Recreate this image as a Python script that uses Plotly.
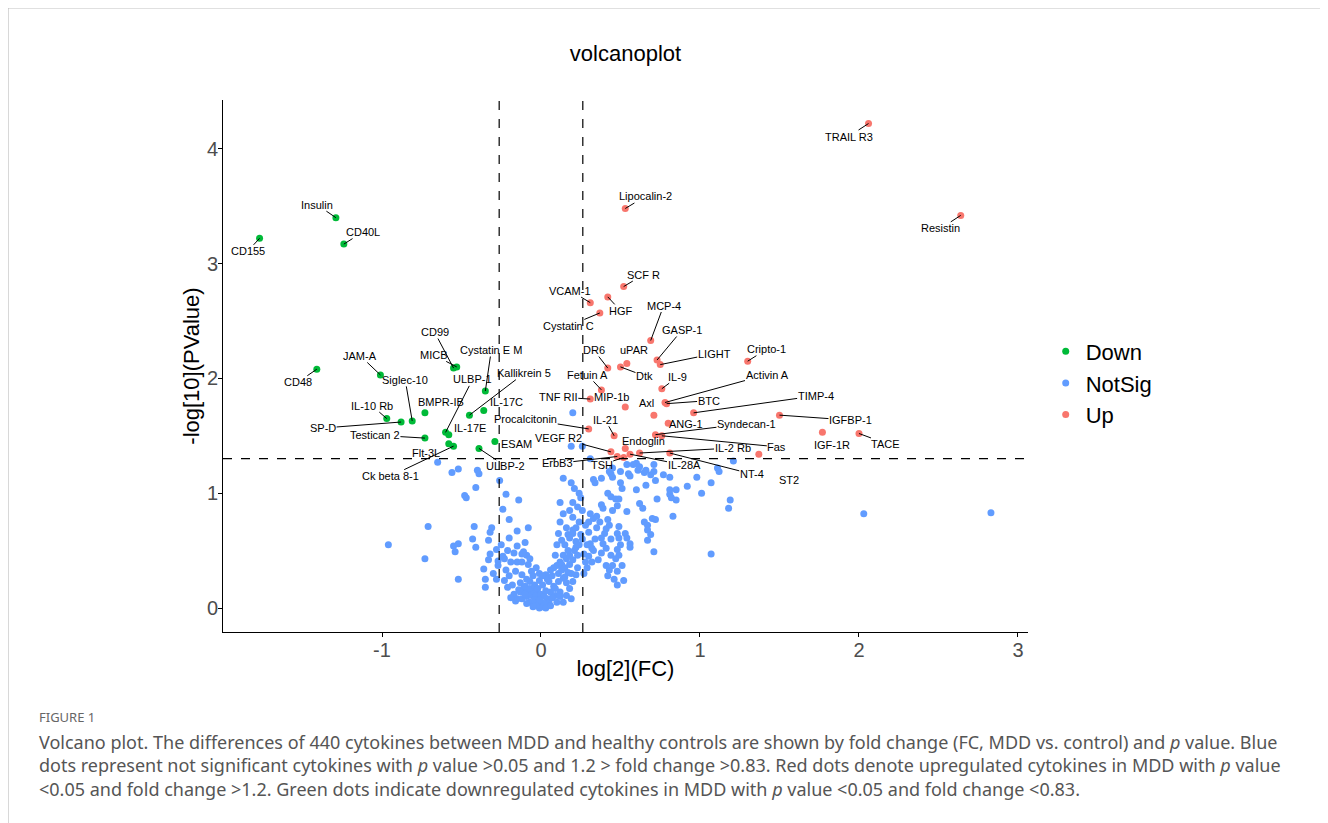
import plotly.graph_objects as go

# ---------------- data ----------------
down_names = ["Insulin", "CD40L", "CD155", "CD48", "JAM-A", "Siglec-10", "IL-10 Rb", "SP-D",
              "BMPR-IB", "Testican 2", "CD99", "MICB", "Cystatin E M", "Kallikrein 5", "IL-17C",
              "ULBP-1", "IL-17E", "Flt-3L", "Ck beta 8-1", "ESAM", "ULBP-2"]
down_x = [-1.29, -1.24, -1.77, -1.41, -1.01, -0.81, -0.97, -0.88,
          -0.73, -0.73, -0.55, -0.53, -0.35, -0.45, -0.36,
          -0.60, -0.58, -0.58, -0.55, -0.29, -0.39]
down_y = [3.40, 3.17, 3.22, 2.08, 2.03, 1.63, 1.65, 1.62,
          1.70, 1.48, 2.09, 2.10, 1.89, 1.68, 1.72,
          1.53, 1.51, 1.43, 1.41, 1.45, 1.39]

up_names = ["TRAIL R3", "Resistin", "Lipocalin-2", "SCF R", "VCAM-1", "HGF", "Cystatin C", "MCP-4",
            "GASP-1", "LIGHT", "Cripto-1", "DR6", "uPAR", "Dtk", "Fetuin A", "TNF RII", "MIP-1b",
            "IL-9", "Axl", "Activin A", "BTC", "TIMP-4", "ANG-1", "Syndecan-1", "Fas", "IGFBP-1",
            "IGF-1R", "TACE", "ST2", "IL-21", "Procalcitonin", "VEGF R2", "Endoglin", "IL-2 Rb",
            "NT-4", "IL-28A", "TSH", "ErbB3"]
up_x = [2.06, 2.64, 0.53, 0.52, 0.31, 0.42, 0.37, 0.69,
        0.73, 0.75, 1.30, 0.42, 0.54, 0.50, 0.38, 0.31, 0.53,
        0.76, 0.71, 0.78, 0.79, 0.96, 0.80, 0.72, 0.76, 1.50,
        1.77, 2.00, 1.37, 0.46, 0.30, 0.44, 0.53, 0.62,
        0.81, 0.56, 0.52, 0.48]
up_y = [4.22, 3.42, 3.48, 2.80, 2.66, 2.71, 2.57, 2.33,
        2.16, 2.12, 2.15, 2.09, 2.13, 2.10, 1.90, 1.82, 1.75,
        1.91, 1.68, 1.79, 1.78, 1.70, 1.61, 1.51, 1.50, 1.68,
        1.53, 1.52, 1.34, 1.50, 1.56, 1.36, 1.39, 1.35,
        1.35, 1.34, 1.31, 1.32]

ns_x = [-0.65, -0.56, -0.52, -0.40, -0.39, -0.26, -0.41, -0.48, -0.47, -0.22,
        -0.14, -0.24, -0.20, -0.71, -0.42, -0.31, -0.32, -0.15, -0.08, -0.96,
        -0.55, -0.52, -0.54, -0.43, -0.41, -0.33, -0.25, -0.15, -0.10, -0.73,
        -0.32, -0.33, -0.28, -0.27, -0.24, -0.23, -0.27, -0.15, -0.12, -0.09,
        -0.07, -0.11, -0.12, -0.36, -0.30, -0.28, -0.22, -0.23, -0.16, -0.52,
        -0.35, -0.35, -0.12, -0.09, -0.07, -0.06, -0.17, -0.14, -0.11, -0.08,
        -0.05, -0.15, -0.12, -0.09, -0.06, -0.03, -0.04, -0.02, -0.07, -0.09,
        0.14, 0.19, 0.21, 0.24, 0.25, 0.33, 0.38, 0.34, 0.44, 0.45,
        0.50, 0.55, 0.56, 0.61, 0.62, 0.65, 0.69, 0.72, 0.77, 0.66,
        0.98, 0.50, 0.51, 0.42, 0.44, 0.47, 0.60, 0.73, 0.81, 0.82,
        0.85, 0.12, 0.18, 0.14, 0.26, 0.38, 0.39, 0.49, 0.48, 0.54,
        0.62, 0.64, 0.65, 0.67, 0.70, 0.72, 0.67, 0.69, 0.67, 0.83,
        0.20, 0.31, 0.33, 0.30, 0.35, 0.42, 0.43, 0.41, 0.40, 0.38,
        0.39, 0.41, 0.49, 0.48, 0.49, 0.53, 0.54, 0.50, 0.48, 0.56,
        0.56, 0.20, 0.20, 0.17, 0.18, 0.22, 0.25, 0.22, 0.11, 0.10,
        0.13, 0.15, 0.14, 0.16, 0.09, 0.12, 0.18, 0.28, 0.30, 0.31,
        0.32, 0.30, 0.32, 0.29, 0.44, 0.47, 0.45, 0.43, 0.48, 0.51,
        0.49, 0.41, 0.71, 0.52, 0.48,
        -0.05, -0.03, 0.00, 0.01, -0.01, -0.04, 0.04, 0.06, 0.08, 0.11,
        0.14, 0.16, 0.18, 0.20, 0.22, 0.23, 0.19, 0.13, 0.10, 0.06,
        0.03, -0.01, 0.05, 0.09, 0.12, 0.16, 0.19, 0.14,
        1.21, 1.11, 1.12, 1.07, 1.01, 1.19, 1.18, 1.07, 2.03, 2.83,
        0.20, 0.19, 0.26, 0.31, 0.45, 0.54, 0.60, 0.66, 0.71, 0.81,
        0.81, 0.85, 0.92, 0.43, 0.58, 0.71,
        -0.18, -0.20, -0.13, -0.10, -0.07, -0.04, -0.02, 0.00, 0.02, 0.03,
        0.05, 0.07, 0.09, 0.10, 0.12, 0.02, -0.01, -0.03, 0.01, 0.04,
        0.07, 0.08, 0.11, 0.13, 0.15, 0.17, 0.15, 0.18, 0.20, 0.21,
        0.23, 0.24, 0.17, 0.26, 0.22, 0.24, 0.16, 0.12, 0.23, 0.20,
        -0.05, -0.08, -0.03, -0.01, 0.01, -0.13, -0.16, -0.19, -0.05, 0.03,
        0.06, -0.10, -0.21, -0.19, -0.21, -0.17, -0.20, 0.27,
        0.27, 0.28, 0.29, 0.34, 0.35, 0.37, 0.33, 0.36, 0.38, 0.45, 0.44, 0.42, 0.46]
ns_y = [1.27, 1.18, 1.21, 1.20, 1.17, 1.11, 1.05, 0.98, 0.96, 0.99,
        0.94, 0.86, 0.77, 0.71, 0.71, 0.70, 0.66, 0.67, 0.70, 0.55,
        0.54, 0.56, 0.49, 0.60, 0.53, 0.59, 0.55, 0.54, 0.57, 0.43,
        0.47, 0.42, 0.51, 0.41, 0.45, 0.43, 0.37, 0.40, 0.47, 0.46,
        0.43, 0.49, 0.40, 0.34, 0.30, 0.25, 0.33, 0.24, 0.32, 0.25,
        0.25, 0.18, 0.29, 0.25, 0.23, 0.32, 0.12, 0.16, 0.17, 0.14,
        0.17, 0.08, 0.08, 0.10, 0.11, 0.13, 0.05, 0.03, 0.05, 0.04,
        1.13, 1.09, 1.04, 1.00, 0.96, 1.12, 1.13, 1.09, 1.17, 1.14,
        1.19, 1.17, 1.15, 1.20, 1.23, 1.18, 1.16, 1.11, 1.16, 1.07,
        1.14, 1.09, 1.04, 1.00, 0.97, 0.95, 1.03, 0.95, 0.99, 0.96,
        0.94, 0.92, 0.85, 0.82, 0.85, 0.90, 0.87, 0.95, 0.89, 0.84,
        0.91, 0.87, 0.75, 0.72, 0.78, 0.77, 0.68, 0.64, 0.59, 0.80,
        0.79, 0.82, 0.78, 0.75, 0.80, 0.77, 0.72, 0.69, 0.65, 0.61,
        0.56, 0.52, 0.71, 0.65, 0.61, 0.65, 0.61, 0.55, 0.51, 0.56,
        0.53, 0.68, 0.65, 0.64, 0.61, 0.58, 0.64, 0.53, 0.65, 0.55,
        0.59, 0.55, 0.46, 0.43, 0.46, 0.40, 0.46, 0.72, 0.66, 0.56,
        0.52, 0.45, 0.40, 0.35, 0.46, 0.43, 0.37, 0.33, 0.32, 0.37,
        0.46, 0.37, 0.49, 0.24, 0.20,
        0.15, 0.11, 0.05, 0.01, 0.00, 0.07, 0.08, 0.14, 0.19, 0.23,
        0.26, 0.22, 0.17, 0.23, 0.29, 0.35, 0.30, 0.33, 0.37, 0.33,
        0.29, 0.24, 0.23, 0.11, 0.14, 0.11, 0.08, 0.05,
        1.28, 1.22, 1.19, 1.09, 1.00, 0.94, 0.87, 0.47, 0.82, 0.83,
        1.70, 1.41, 1.41, 1.30, 1.22, 1.25, 1.26, 1.20, 1.19, 1.14,
        1.03, 1.03, 1.06, 1.19, 1.25, 1.25,
        0.20, 0.28, 0.22, 0.19, 0.17, 0.20, 0.17, 0.12, 0.10, 0.15,
        0.05, 0.09, 0.17, 0.05, 0.10, 0.04, 0.07, 0.02, 0.20, 0.25,
        0.28, 0.35, 0.30, 0.38, 0.35, 0.31, 0.27, 0.38, 0.42, 0.50,
        0.46, 0.55, 0.50, 0.60, 0.70, 0.75, 0.70, 0.75, 0.88, 0.92,
        0.28, 0.38, 0.35, 0.30, 0.28, 0.14, 0.06, 0.09, 0.01, 0.00,
        0.02, 0.12, 0.18, 0.40, 0.50, 0.48, 0.61, 0.47,
        0.30, 0.40, 0.55, 0.60, 0.70, 0.75, 0.50, 0.42, 0.48, 0.85, 0.60, 0.28, 0.25]

x_ticks = [-1, 0, 1, 2, 3]
x_tick_labels = ["-1", "0", "1", "2", "3"]
y_ticks = [0, 1, 2, 3, 4]
fc_cut = 0.263
p_cut = 1.301

# label placement (pixel offsets from the point), styling only
label_offset = {
    "Insulin": (-19, -13), "CD40L": (19, -12), "CD155": (-12, 13), "CD48": (-19, 13),
    "JAM-A": (-20, -19), "Siglec-10": (-7, -41), "IL-10 Rb": (-15, -13), "SP-D": (-78, 6),
    "BMPR-IB": (16, -11), "Testican 2": (-50, -3), "CD99": (-19, -36), "MICB": (-23, -12),
    "Cystatin E M": (6, -41), "Kallikrein 5": (55, -42), "IL-17C": (23, -9), "ULBP-1": (27, -53),
    "IL-17E": (21, -7), "Flt-3L": (-23, 9), "Ck beta 8-1": (-63, 30), "ESAM": (22, 2),
    "ULBP-2": (27, 18),
    "TRAIL R3": (-20, 13), "Resistin": (-20, 13), "Lipocalin-2": (20, -12), "SCF R": (20, -12),
    "VCAM-1": (-20, -12), "HGF": (13, 14), "Cystatin C": (-31, 13), "MCP-4": (13, -35),
    "GASP-1": (25, -30), "LIGHT": (54, -11), "Cripto-1": (19, -12), "DR6": (-14, -18),
    "uPAR": (7, -13), "Dtk": (24, 9), "Fetuin A": (-14, -15), "TNF RII": (-32, -2),
    "MIP-1b": (-14, -10), "IL-9": (16, -12), "Axl": (-7, -12), "Activin A": (102, -28),
    "BTC": (42, -3), "TIMP-4": (122, -17), "ANG-1": (18, 1), "Syndecan-1": (91, -11),
    "Fas": (115, 11), "IGFBP-1": (71, 5), "IGF-1R": (10, 13), "TACE": (27, 10),
    "ST2": (30, 26), "IL-21": (-9, -16), "Procalcitonin": (-63, -10), "VEGF R2": (-52, -14),
    "Endoglin": (18, -7), "IL-2 Rb": (93, -5), "NT-4": (82, 21), "IL-28A": (54, 11),
    "TSH": (-22, 7), "ErbB3": (-60, 7),
}
no_segment = {"BMPR-IB", "IL-17C", "IL-17E", "Flt-3L", "ESAM", "uPAR", "MIP-1b", "Axl",
              "ANG-1", "IGF-1R", "Endoglin"}

# ---------------- figure ----------------
fig = go.Figure()
fig.add_trace(go.Scatter(x=down_x, y=down_y, mode="markers", name="Down",
                         marker=dict(color="#00BA38", size=7, line=dict(width=0))))
fig.add_trace(go.Scatter(x=ns_x, y=ns_y, mode="markers", name="NotSig",
                         marker=dict(color="#619CFF", size=7, line=dict(width=0))))
fig.add_trace(go.Scatter(x=up_x, y=up_y, mode="markers", name="Up",
                         marker=dict(color="#F8766D", size=7, line=dict(width=0))))

annotations = []
for names, xs, ys in ((down_names, down_x, down_y), (up_names, up_x, up_y)):
    for n, xv, yv in zip(names, xs, ys):
        dx, dy = label_offset[n]
        annotations.append(dict(
            x=xv, y=yv, xref="x", yref="y", text=n, showarrow=True,
            ax=dx, ay=dy, arrowhead=0, arrowwidth=1, standoff=0, startstandoff=0,
            arrowcolor="rgba(0,0,0,0)" if n in no_segment else "black",
            font=dict(family="Liberation Sans, Arial", size=11, color="black"),
            borderpad=0))

# caption
annotations.append(dict(
    xref="paper", yref="paper", x=-0.231, y=-0.160, xanchor="left", yanchor="middle",
    text="FIGURE 1", showarrow=False,
    font=dict(family="Noto Sans", size=13, color="#666666")))
annotations.append(dict(
    xref="paper", yref="paper", x=-0.231, y=-0.250, xanchor="left", yanchor="middle",
    align="left", showarrow=False,
    text=("Volcano plot. The differences of 440 cytokines between MDD and healthy controls are shown by fold change (FC, MDD vs. control) and <i>p</i> value. Blue<br>"
          "dots represent not significant cytokines with <i>p</i> value &gt;0.05 and 1.2 &gt; fold change &gt;0.83. Red dots denote upregulated cytokines in MDD with <i>p</i> value<br>"
          "&lt;0.05 and fold change &gt;1.2. Green dots indicate downregulated cytokines in MDD with <i>p</i> value &lt;0.05 and fold change &lt;0.83."),
    font=dict(family="Noto Sans", size=18, color="#555555")))

shapes = [
    dict(type="line", xref="x", yref="paper", x0=-fc_cut, x1=-fc_cut, y0=0, y1=1,
         line=dict(color="black", width=1.2, dash="dash")),
    dict(type="line", xref="x", yref="paper", x0=fc_cut, x1=fc_cut, y0=0, y1=1,
         line=dict(color="black", width=1.2, dash="dash")),
    dict(type="line", xref="paper", yref="y", x0=0, x1=1, y0=p_cut, y1=p_cut,
         line=dict(color="black", width=1.2, dash="dash")),
    # figure frame (top and left)
    dict(type="line", xref="paper", yref="paper", x0=-0.267, x1=1.38, y0=1.173, y1=1.173,
         line=dict(color="#bbbbbb", width=1)),
    dict(type="line", xref="paper", yref="paper", x0=-0.267, x1=-0.267, y0=1.173, y1=-0.36,
         line=dict(color="#bbbbbb", width=1)),
]

axis_common = dict(showline=True, linecolor="black", linewidth=1, ticks="outside",
                   ticklen=4, tickcolor="black", showgrid=False, zeroline=False,
                   ticklabelstandoff=-4,
                   tickfont=dict(family="Liberation Sans, Arial", size=20, color="#4D4D4D"))

fig.update_layout(
    width=1328, height=823,
    paper_bgcolor="white", plot_bgcolor="white",
    margin=dict(l=215, r=308, t=92, b=199),
    title=dict(text="volcanoplot", x=0.5, xref="paper", y=1 - 45 / 823, yanchor="middle",
               font=dict(family="Liberation Sans, Arial", size=22, color="black")),
    xaxis=dict(range=[-2.0, 3.063], tickvals=x_ticks, ticktext=x_tick_labels,
               title=dict(text="log[2](FC)", font=dict(family="Liberation Sans, Arial", size=22, color="black"),
                          standoff=0),
               **axis_common),
    yaxis=dict(range=[-0.209, 4.425], tickvals=y_ticks,
               title=dict(text="-log[10](PValue)", font=dict(family="Liberation Sans, Arial", size=22, color="black"),
                          standoff=1),
               **axis_common),
    legend=dict(x=1.022, y=0.468, xanchor="left", yanchor="middle",
                font=dict(family="Liberation Sans, Arial", size=22, color="black"),
                bgcolor="rgba(0,0,0,0)", itemsizing="trace"),
    showlegend=True,
    annotations=annotations,
    shapes=shapes,
)

fig.write_html("out.html")
